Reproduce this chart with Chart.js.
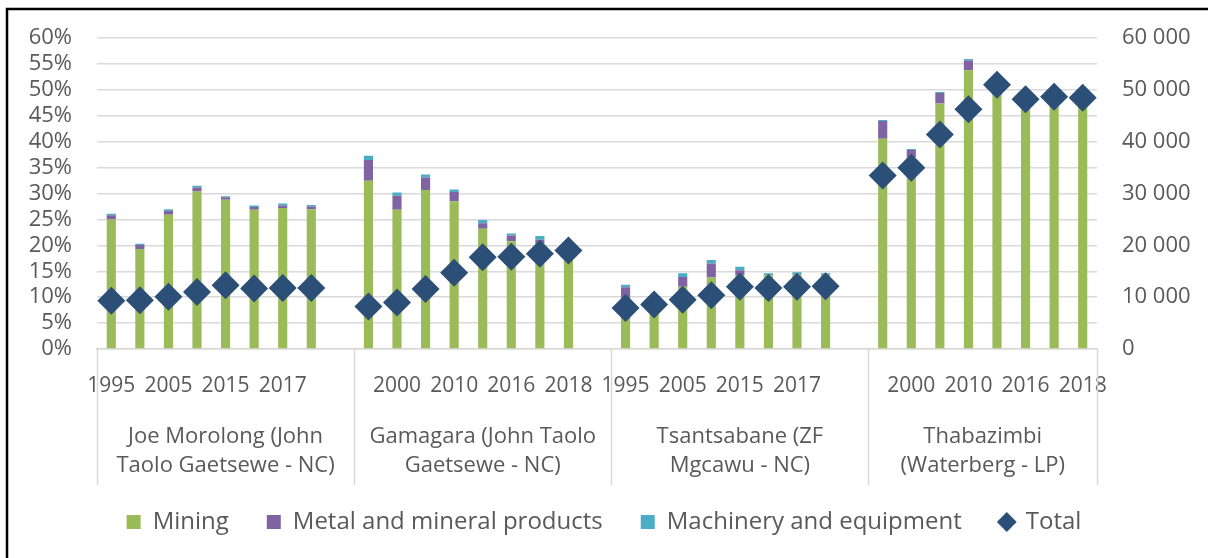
<!DOCTYPE html>
<html>
<head>
<meta charset="utf-8">
<script src="https://cdn.jsdelivr.net/npm/chart.js@4.4.1/dist/chart.umd.min.js"></script>
<style>
  html, body { margin: 0; padding: 0; background: #fff; }
  #wrap { position: relative; width: 1208px; height: 558px; }
</style>
</head>
<body>
<div id="wrap"><canvas id="chart" width="1208" height="558"></canvas></div>
<script>
// Municipalities (two-line names) and the years shown for each one
const municipalities = [
    ['Joe Morolong (John', 'Taolo Gaetsewe - NC)'],
    ['Gamagara (John Taolo', 'Gaetsewe - NC)'],
    ['Tsantsabane (ZF', 'Mgcawu - NC)'],
    ['Thabazimbi', '(Waterberg - LP)']
];
const years = ['1995', '2000', '2005', '2010', '2015', '2016', '2017', '2018'];

// Share of employment (%), 8 years per municipality, in the order above
const mining = [
    25.0, 19.3, 25.9, 30.4, 28.8, 26.9, 27.2, 27.0,
    32.5, 26.9, 30.7, 28.5, 23.2, 20.8, 20.4, 17.6,
    9.8, 9.6, 12.0, 13.8, 14.3, 14.2, 14.4, 14.3,
    40.6, 37.0, 47.4, 53.8, 49.0, 46.6, 47.5, 47.0
];
const metalProducts = [
    0.8, 0.8, 0.8, 0.8, 0.5, 0.5, 0.5, 0.5,
    4.0, 2.7, 2.4, 1.8, 1.1, 1.1, 0.7, 0.3,
    2.1, 0.6, 1.9, 2.7, 0.9, 0.1, 0.1, 0.1,
    3.4, 1.4, 2.0, 1.9, 0.3, 0.3, 0.3, 0.3
];
const machinery = [
    0.3, 0.2, 0.3, 0.3, 0.2, 0.3, 0.4, 0.3,
    0.8, 0.6, 0.6, 0.5, 0.6, 0.4, 0.7, 0.2,
    0.5, 0.2, 0.7, 0.7, 0.7, 0.3, 0.3, 0.2,
    0.2, 0.2, 0.2, 0.3, 0.1, 0.1, 0.1, 0.1
];
// Total employment (right axis)
const total = [
    9300, 9400, 10100, 11000, 12300, 11700, 11800, 11800,
    8200, 9000, 11600, 14700, 17700, 17800, 18400, 19000,
    7900, 8600, 9500, 10400, 12000, 11800, 12000, 12100,
    33500, 35000, 41400, 46300, 51000, 48200, 48700, 48500
];

const leftTicks = { min: 0, max: 60, step: 5 };
const rightTicks = { min: 0, max: 60000, step: 10000 };

const TEXT = '#595959';
const GRID = '#d9d9d9';
const FONT = "'Open Sans', sans-serif";

// Each municipality gets its years plus one empty slot, except the last one
function padGroups(values) {
    const out = [];
    municipalities.forEach((_, g) => {
        for (let i = 0; i < years.length; i++) out.push(values[g * years.length + i]);
        if (g < municipalities.length - 1) out.push(null);
    });
    return out;
}

const labels = padGroups(municipalities.flatMap(() => years)).map(v => v || '');
// index of the first slot of every group, plus the end
const groupStarts = [];
{
    let idx = 0;
    municipalities.forEach((_, g) => {
        groupStarts.push(idx);
        idx += years.length + (g < municipalities.length - 1 ? 1 : 0);
    });
    groupStarts.push(idx);
}

function thousands(v) {
    return String(v).replace(/\B(?=(\d{3})+(?!\d))/g, ' ');
}

// Group names under the year labels, separators and the outer frame
const groupAxis = {
    id: 'groupAxis',
    afterDraw(chart) {
        const ctx = chart.ctx;
        const x = chart.scales.x;
        const step = x.getPixelForValue(1) - x.getPixelForValue(0);
        const edge = i => x.getPixelForValue(0) - step / 2 + i * step;
        const top = chart.chartArea.bottom;

        ctx.save();
        ctx.strokeStyle = GRID;
        ctx.lineWidth = 1.5;
        groupStarts.forEach(i => {
            const px = Math.round(edge(i)) + 0.5;
            ctx.beginPath();
            ctx.moveTo(px, top);
            ctx.lineTo(px, 485);
            ctx.stroke();
        });

        ctx.fillStyle = TEXT;
        ctx.font = '22px ' + FONT;
        ctx.textAlign = 'center';
        ctx.textBaseline = 'middle';
        municipalities.forEach((lines, g) => {
            const cx = (edge(groupStarts[g]) + edge(groupStarts[g + 1])) / 2;
            lines.forEach((t, k) => ctx.fillText(t, cx, 437 + k * 29));
        });

        ctx.strokeStyle = '#000';
        ctx.lineWidth = 2.5;
        ctx.beginPath();
        ctx.moveTo(7, 558);
        ctx.lineTo(7, 9);
        ctx.lineTo(1208, 9);
        ctx.stroke();
        ctx.restore();
    }
};

Chart.defaults.font.family = FONT;
Chart.defaults.color = TEXT;

const barBase = {
    type: 'bar',
    stack: 'share',
    yAxisID: 'y',
    categoryPercentage: 1,
    barPercentage: 0.32,
    pointStyle: 'rect',
    order: 1
};

new Chart(document.getElementById('chart'), {
    data: {
        labels: labels,
        datasets: [
            { ...barBase, label: 'Mining', data: padGroups(mining), backgroundColor: '#9bbb59' },
            { ...barBase, label: 'Metal and mineral products', data: padGroups(metalProducts), backgroundColor: '#8064a2' },
            { ...barBase, label: 'Machinery and equipment', data: padGroups(machinery), backgroundColor: '#4bacc6' },
            {
                type: 'line',
                label: 'Total',
                data: padGroups(total),
                yAxisID: 'y1',
                showLine: false,
                pointStyle: 'rectRot',
                pointRadius: 14,
                pointHoverRadius: 14,
                backgroundColor: '#2c4f77',
                borderColor: '#2c4f77',
                borderWidth: 0,
                order: 0
            }
        ]
    },
    options: {
        responsive: false,
        animation: false,
        layout: { padding: { top: 38, left: 0, right: 0, bottom: 14 } },
        plugins: {
            legend: {
                position: 'bottom',
                labels: {
                    usePointStyle: true,
                    boxWidth: 14,
                    boxHeight: 14,
                    padding: 38,
                    font: { size: 24 },
                    color: TEXT,
                    sort: (a, b) => a.datasetIndex - b.datasetIndex
                }
            },
            tooltip: { enabled: false }
        },
        scales: {
            x: {
                stacked: true,
                grid: { display: false },
                border: { color: GRID, width: 1.5 },
                ticks: {
                    autoSkip: false,
                    maxRotation: 0,
                    padding: 16,
                    font: { size: 21 },
                    color: TEXT,
                    callback: (v, i) => (i % 2 === 0 ? labels[i] : '')
                },
                afterFit: s => { s.height = 123; }
            },
            y: {
                position: 'left',
                stacked: true,
                min: leftTicks.min,
                max: leftTicks.max,
                grid: { color: GRID, lineWidth: 1.5, drawTicks: false },
                border: { display: false },
                ticks: {
                    stepSize: leftTicks.step,
                    autoSkip: false,
                    padding: 25,
                    font: { size: 22 },
                    callback: v => v + '%'
                },
                afterFit: s => { s.width = 97; }
            },
            y1: {
                position: 'right',
                min: rightTicks.min,
                max: rightTicks.max,
                grid: { drawOnChartArea: false, drawTicks: false },
                border: { display: false },
                ticks: {
                    stepSize: rightTicks.step,
                    autoSkip: false,
                    padding: 25,
                    font: { size: 22 },
                    callback: v => thousands(v)
                },
                afterFit: s => { s.width = 111; }
            }
        }
    },
    plugins: [groupAxis]
});
</script>
</body>
</html>
